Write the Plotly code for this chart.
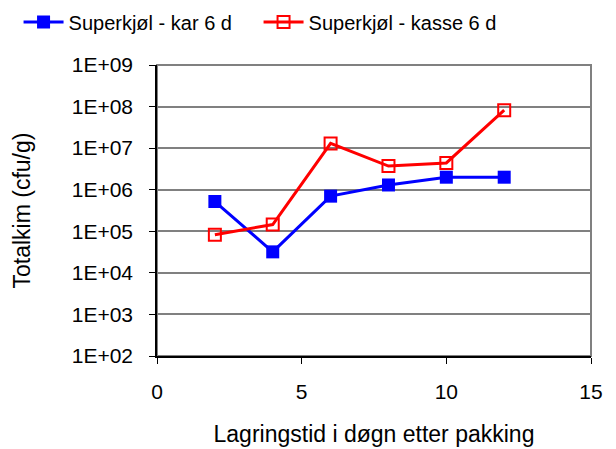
import plotly.graph_objects as go

days = [2, 4, 6, 8, 10, 12]
kar_6d = [5.2e5, 3.2e4, 7.0e5, 1.3e6, 2.0e6, 2.0e6]
kasse_6d = [8.3e4, 1.45e5, 1.3e7, 3.7e6, 4.4e6, 8.2e7]
y_tick_vals = [1e2, 1e3, 1e4, 1e5, 1e6, 1e7, 1e8, 1e9]
y_tick_text = ["1E+02", "1E+03", "1E+04", "1E+05", "1E+06", "1E+07", "1E+08", "1E+09"]
x_tick_vals = [0, 5, 10, 15]

font = "Liberation Sans, Arial, sans-serif"

fig = go.Figure()
fig.add_trace(go.Scatter(
    x=days, y=kar_6d, mode="lines+markers", name="Superkjøl - kar 6 d",
    line=dict(color="#0000FF", width=3),
    marker=dict(symbol="square", size=13, color="#0000FF"),
))
fig.add_trace(go.Scatter(
    x=days, y=kasse_6d, mode="lines+markers", name="Superkjøl - kasse 6 d",
    line=dict(color="#FF0000", width=3),
    marker=dict(symbol="square-open", size=12, color="#FF0000", line=dict(width=2)),
))

fig.add_shape(type="rect", xref="paper", yref="paper", x0=0, y0=0, x1=1, y1=1,
              line=dict(color="#808080", width=2), layer="below")

fig.update_layout(
    width=616, height=449,
    margin=dict(l=149, r=33, t=57, b=101, autoexpand=False),
    paper_bgcolor="white", plot_bgcolor="white",
    font=dict(family=font, size=21, color="black"),
    showlegend=True,
    legend=dict(orientation="h", x=-0.319, xanchor="left", y=1.148, yanchor="middle",
                font=dict(size=20), bgcolor="rgba(0,0,0,0)", itemwidth=40,
                entrywidth=185, entrywidthmode="pixels", tracegroupgap=0),
    xaxis=dict(range=[0, 15], tickvals=x_tick_vals, showgrid=False, zeroline=False,
               showline=True, linecolor="black", linewidth=1.5,
               ticks="outside", ticklen=6, tickcolor="black", ticklabelstandoff=10,
               tickfont=dict(size=21),
               title=dict(text="Lagringstid i døgn etter pakking", standoff=24,
                          font=dict(size=23))),
    yaxis=dict(type="log", range=[2, 9], tickvals=y_tick_vals, ticktext=y_tick_text,
               showgrid=True, gridcolor="#808080", gridwidth=1.5, zeroline=False,
               showline=True, linecolor="black", linewidth=1.5,
               ticks="outside", ticklen=6, tickcolor="black", ticklabelstandoff=12,
               tickfont=dict(size=21),
               title=dict(text="Totalkim (cfu/g)", standoff=35, font=dict(size=23))),
)

fig.write_html("out.html")
